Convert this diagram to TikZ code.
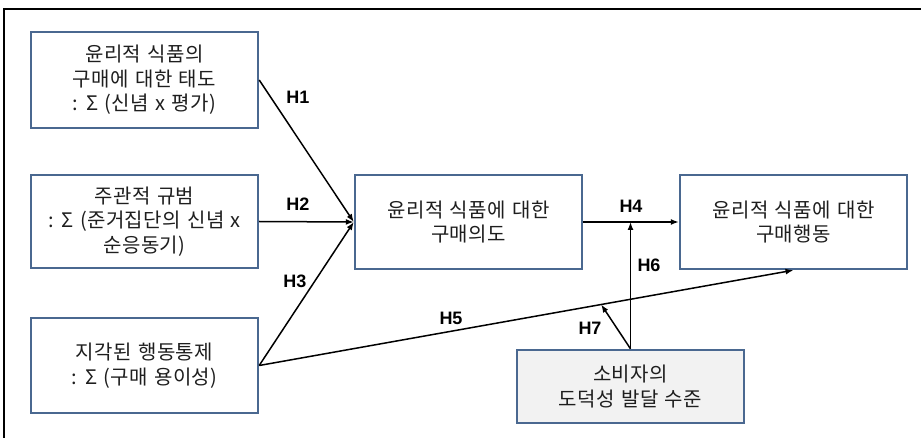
\documentclass[tikz,border=0pt]{standalone}
\usepackage{fontspec}
\setmainfont[WordSpace=1.3, LetterSpace=2]{Noto Sans CJK KR}
\newfontfamily\labelfont{Liberation Sans}
\usetikzlibrary{arrows.meta,calc}
\definecolor{boxline}{HTML}{4A6890}
\definecolor{boxfill}{HTML}{F2F2F2}
\definecolor{txt}{HTML}{1E1E1E}
\tikzset{
  varbox/.style={draw=boxline, line width=2.4pt, fill=white, align=center,
    minimum width=227pt, inner sep=0pt, text=txt,
    font=\fontsize{20}{24.5}\selectfont},
  link/.style={line width=1.5pt, -{Latex[length=8pt,width=6pt]}},
  hlabel/.style={font=\labelfont\bfseries\fontsize{18}{20}\selectfont, inner sep=0pt}
}
\begin{document}
\begin{tikzpicture}[x=1pt,y=-1pt]
\useasboundingbox (0,0) rectangle (921,438);
% outer frame (top and left edges)
\draw[line width=1.3pt] (4,440) -- (4,9) -- (925,9);

% variable boxes
\node[varbox, minimum height=96pt] (att) at (144.5,80)
  {윤리적 식품의\\구매에 대한 태도\\: Σ (신념 x 평가)};
\node[varbox, minimum height=93pt] (norm) at (144.5,221.5)
  {주관적 규범\\: Σ (준거집단의 신념 x\\순응동기)};
\node[varbox, minimum height=95pt] (pbc) at (144.5,365.5)
  {지각된 행동통제\\: Σ (구매 용이성)};
\node[varbox, minimum height=94pt] (int) at (468.5,222)
  {윤리적 식품에 대한\\구매의도};
\node[varbox, minimum height=94pt] (beh) at (793.5,222)
  {윤리적 식품에 대한\\구매행동};
\node[varbox, fill=boxfill, minimum height=73pt] (moral) at (630.5,386.5)
  {소비자의\\도덕성 발달 수준};

% paths
\draw[link] (att.east) -- (int.west);
\draw[link] (norm.east) -- (int.west);
\draw[link] (pbc.east) -- (int.west);
\draw[link] (int.east) -- (beh.west);
\draw[link] (pbc.east) -- (beh.south);
\coordinate (h6end) at (moral.north |- int.east);
\coordinate (h7end) at ($(pbc.east)!0.64!(beh.south)$);
\draw[link] (moral.north) -- (h6end);
\draw[link] (moral.north) -- (h7end);

% hypothesis labels
\node[hlabel] (h1) at (298,97) {H1};
\node[hlabel] (h2) at (298,204) {H2};
\node[hlabel] (h3) at (295,281) {H3};
\node[hlabel] (h4) at (631,206) {H4};
\node[hlabel] (h5) at (451,318) {H5};
\node[hlabel] (h6) at (649,265) {H6};
\node[hlabel] (h7) at (590,328) {H7};
\end{tikzpicture}
\end{document}
